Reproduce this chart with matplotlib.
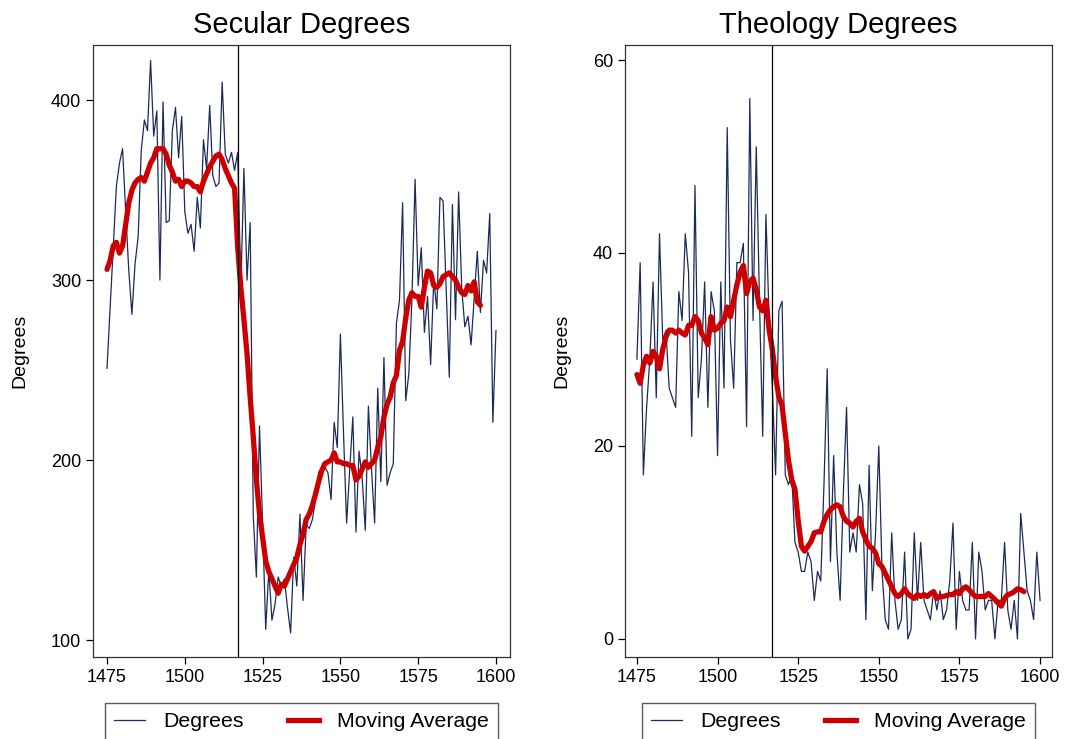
import numpy as np
import matplotlib
matplotlib.use("Agg")
import matplotlib.pyplot as plt
from matplotlib.lines import Line2D

plt.rcParams["font.family"] = ["Liberation Sans", "DejaVu Sans"]

# yearly values, 1475-1600
secular = [251, 285, 318, 352, 365, 373, 338, 305, 281, 309,
           324, 372, 389, 383, 422, 380, 394, 300, 399, 332,
           333, 383, 396, 368, 391, 338, 326, 331, 316, 346,
           329, 378, 362, 397, 358, 352, 354, 410, 370, 365,
           371, 361, 371, 295, 362, 300, 332, 169, 135, 219,
           165, 106, 139, 111, 120, 135, 130, 134, 118, 104,
           146, 130, 170, 122, 164, 162, 167, 178, 193, 196,
           196, 193, 178, 221, 207, 270, 215, 165, 195, 224,
           160, 205, 190, 161, 230, 195, 165, 240, 188, 257,
           186, 193, 198, 276, 289, 343, 233, 248, 290, 356,
           297, 318, 271, 291, 253, 300, 284, 346, 344, 295,
           246, 342, 278, 349, 295, 274, 280, 264, 290, 316,
           282, 311, 304, 337, 221, 272]

# moving average, 1475-1595
secular_ma = [306, 311, 319, 321, 315, 319, 331, 343, 350, 354,
              356, 357, 355, 360, 365, 368, 373, 373, 373, 370,
              364, 360, 355, 356, 352, 355, 355, 354, 352, 352,
              349, 355, 359, 363, 366, 369, 370, 367, 362, 358,
              354, 351, 318, 296, 278, 259, 235, 213, 189, 170,
              157, 144, 138, 134, 130, 126, 131, 130, 134, 138,
              142, 146, 153, 159, 167, 170, 175, 181, 188, 194,
              198, 199, 200, 204, 199, 199, 198, 198, 197, 197,
              189, 191, 195, 199, 196, 198, 200, 207, 213, 224,
              231, 235, 243, 247, 261, 266, 279, 289, 293, 291,
              291, 285, 296, 305, 304, 297, 296, 298, 302, 303,
              304, 302, 300, 296, 293, 292, 297, 294, 299, 288,
              286]

theology = [29, 39, 17, 24, 29, 37, 25, 42, 31, 32,
            26, 25, 24, 36, 33, 42, 38, 21, 47, 25,
            29, 37, 24, 36, 34, 19, 37, 26, 53, 31,
            26, 39, 39, 41, 22, 56, 33, 51, 35, 21,
            44, 33, 26, 17, 34, 35, 17, 16, 17, 10,
            9, 7, 7, 9, 8, 4, 7, 6, 16, 28,
            8, 19, 9, 4, 15, 24, 9, 11, 9, 16,
            14, 2, 18, 5, 11, 20, 7, 2, 1, 11,
            4, 1, 2, 9, 0, 1, 11, 4, 10, 4,
            3, 2, 5, 3, 5, 2, 3, 6, 12, 1,
            7, 4, 3, 3, 10, 0, 9, 7, 3, 4,
            4, 0, 4, 4, 10, 3, 1, 4, 0, 13,
            9, 5, 4, 2, 9, 4]

theology_ma = [27.4, 26.5, 28.4, 29.3, 28.6, 29.8, 29.3, 28.0, 30.0, 31.3,
               32.0, 32.0, 31.7, 32.0, 31.7, 31.5, 32.5, 32.5, 33.4, 33.0,
               31.7, 31.2, 30.5, 33.4, 32.0, 32.2, 32.7, 33.0, 34.4, 33.4,
               35.1, 36.7, 38.0, 38.7, 35.8, 37.0, 37.4, 36.2, 34.4, 34.0,
               35.1, 32.0, 30.0, 27.2, 25.1, 24.2, 21.3, 18.5, 16.5, 15.5,
               12.3, 9.6, 9.1, 9.6, 10.1, 11.0, 11.1, 11.1, 12.2, 12.9,
               13.4, 13.7, 13.9, 13.7, 12.7, 12.2, 12.0, 11.6, 12.2, 12.5,
               11.1, 10.3, 9.6, 9.4, 8.9, 7.8, 7.5, 6.8, 6.1, 5.4,
               4.7, 4.4, 4.7, 5.2, 4.7, 4.4, 4.2, 4.6, 4.4, 4.6,
               4.4, 4.7, 4.9, 4.2, 4.4, 4.4, 4.5, 4.6, 4.6, 4.9,
               4.7, 5.2, 5.4, 5.1, 4.7, 4.4, 4.4, 4.4, 4.4, 4.7,
               4.4, 4.1, 3.7, 3.4, 4.2, 4.6, 4.7, 4.9, 5.2, 5.1,
               4.9]

years = np.arange(1475, 1601)
years_ma = np.arange(1475, 1596)
reformation = 1517
xticks = [1475, 1500, 1525, 1550, 1575, 1600]

navy = "#1c2b5a"
red = "#cc0000"

fig = plt.figure(figsize=(10.68, 7.39), dpi=100)
ax1 = fig.add_axes([0.0871, 0.111, 0.3904, 0.828])
ax2 = fig.add_axes([0.5852, 0.111, 0.3998, 0.828])

panels = [
    (ax1, secular, secular_ma, "Secular Degrees", (1470.5, 1604.5), (90.6, 430.6), [100, 200, 300, 400]),
    (ax2, theology, theology_ma, "Theology Degrees", (1471.3, 1603.7), (-1.87, 61.55), [0, 20, 40, 60]),
]

for ax, vals, ma, title, xl, yl, yt in panels:
    ax.plot(years, vals, color=navy, lw=0.9)
    ax.plot(years_ma, ma, color=red, lw=3.8, solid_capstyle="round", solid_joinstyle="round")
    ax.axvline(reformation, color="black", lw=0.9)
    ax.set_xlim(xl)
    ax.set_ylim(yl)
    ax.set_xticks(xticks)
    ax.set_yticks(yt)
    ax.tick_params(labelsize=13, length=5, width=0.9, direction="out")
    ax.set_ylabel("Degrees", fontsize=14, labelpad=16)
    ax.set_title(title, fontsize=21, pad=9)
    for s in ax.spines.values():
        s.set_color("#333333")
        s.set_linewidth(0.9)

handles = [Line2D([], [], color=navy, lw=0.9), Line2D([], [], color=red, lw=3.8)]
labels = ["Degrees", "Moving Average"]
for ax in (ax1, ax2):
    pos = ax.get_position()
    fig.legend(handles, labels, loc="upper center", ncol=2, fontsize=15.3,
               bbox_to_anchor=((pos.x0 + pos.x1) / 2, 0.049), frameon=True,
               fancybox=False, edgecolor="#333333", borderpad=0.45,
               handlelength=1.45, handletextpad=0.85, columnspacing=2.1,
               borderaxespad=0)

fig.savefig("out.png", dpi=100)
